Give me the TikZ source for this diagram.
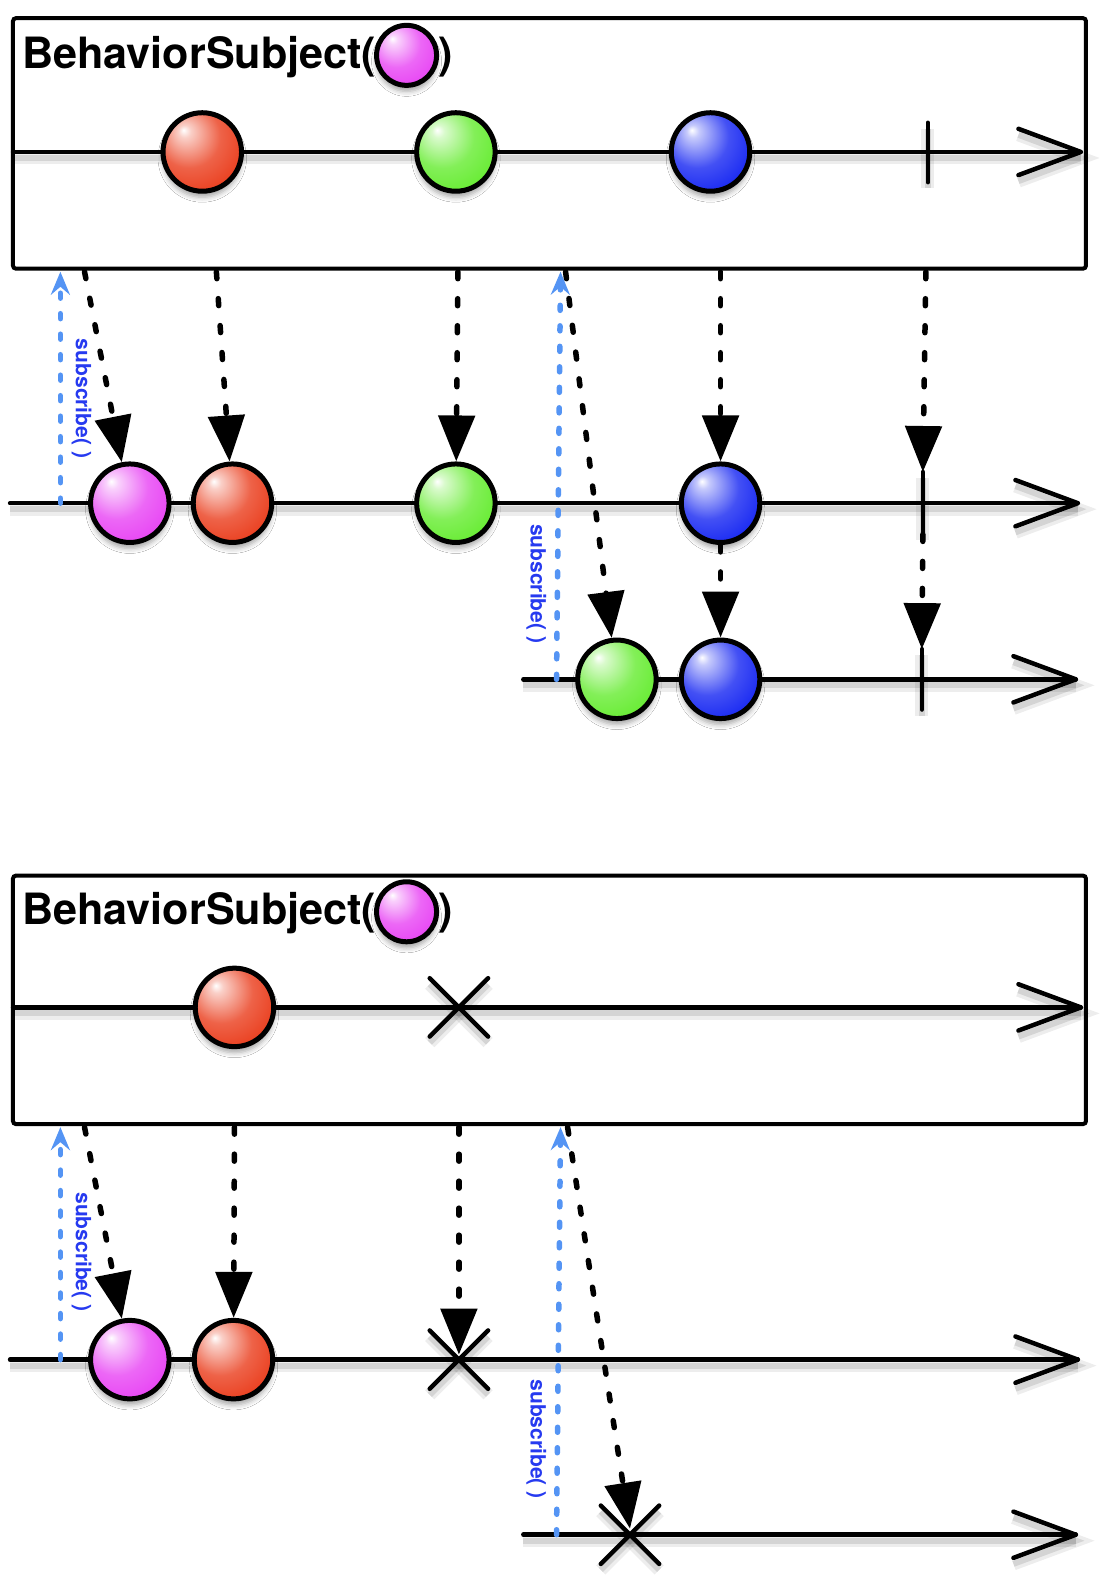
\documentclass[tikz,border=0pt]{standalone}
\usepackage{fontspec}
\setmainfont{TeX Gyre Heros}
\usetikzlibrary{arrows.meta,shadows.blur}
\definecolor{bred}{RGB}{234,64,32}
\definecolor{bgreen}{RGB}{104,236,52}
\definecolor{bblue}{RGB}{26,42,242}
\definecolor{bmag}{RGB}{232,70,244}
\definecolor{subblue}{RGB}{84,148,244}
\definecolor{labblue}{RGB}{38,58,240}
\newcommand\declball[2]{\pgfdeclareradialshading{#1}{\pgfpoint{-12bp}{14bp}}{%
 color(0bp)=(white); color(4bp)=(#2!25!white); color(20bp)=(#2!82!white);
 color(34bp)=(#2); color(52bp)=(#2!72!black); color(68bp)=(#2!42!black)}}
\declball{redshade}{bred}
\declball{greenshade}{bgreen}
\declball{blueshade}{bblue}
\declball{magshade}{bmag}
\begin{document}
\begin{tikzpicture}[x=1.0064bp,y=-1.0064bp,
  ball/.style={circle, draw=black, line width=5bp, minimum size=78.5bp, inner sep=0bp, outer sep=2.5bp,
    blur shadow={shadow xshift=0bp, shadow yshift=-6bp, shadow blur radius=5bp, shadow opacity=35}},
  rball/.style={ball, shading=redshade},
  gball/.style={ball, shading=greenshade},
  bball/.style={ball, shading=blueshade},
  mball/.style={ball, shading=magshade},
  tl/.style={line width=4.5bp, line cap=round, line join=round, draw=black,
    preaction={draw=black, opacity=0.07, line width=13bp, transform canvas={yshift=-6bp}},
    preaction={draw=black, opacity=0.10, line width=6bp, transform canvas={yshift=-6bp}}},
  sbox/.style={draw=black, line width=4bp, rounded corners=3bp, inner sep=0bp, fill=none},
  title/.style={font=\fontsize{43.3}{43.3}\selectfont\bfseries, inner sep=0bp},
  sublabel/.style={text=labblue, font=\fontsize{21.1}{21.1}\selectfont\bfseries, inner sep=0bp},
  emit/.style={draw=black, line width=5.5bp, line cap=round, dash pattern=on 7bp off 20bp,
    -{Triangle[width=36bp,length=46bp]}},
  subarr/.style={draw=subblue, line width=5.5bp, line cap=round, dash pattern=on 5bp off 15.5bp,
    -{Stealth[width=19bp,length=23bp,inset=8bp]}}
]
\fill[white] (0,0) rectangle (1097,1568);

% ================= TOP DIAGRAM =================
\node[sbox, minimum width=1073bp, minimum height=250.5bp] (box1) at (546,142.5) {};
\node[title, anchor=base west] (ttl1) at (22,68) {BehaviorSubject(};
\node[mball, minimum size=60bp] (tm1) at (404,55) {};
\node[title, anchor=base west] (tp1) at (436,68) {)};

% source timeline
\coordinate (s1) at (13,151);
\coordinate (e1) at (1074,151);
\draw[tl] (s1) -- (e1);
\draw[tl] (e1) ++(-62,-23) -- (e1) -- ++(-62,23);
\coordinate (k1) at (922,151);
\draw[tl] (k1) ++(0,-29) -- ++(0,59);
\node[rball] (r1) at (201,151) {};
\node[gball] (g1) at (453,151) {};
\node[bball] (b1) at (706,151) {};

% first subscriber timeline
\coordinate (s2) at (10,500);
\coordinate (e2) at (1071,500);
\draw[tl] (s2) -- (e2);
\draw[tl] (e2) ++(-62,-23) -- (e2) -- ++(-62,23);
\coordinate (k2t) at (917,469);
\coordinate (k2b) at (917,531);
\draw[tl] (k2t) -- (k2b);
\node[mball] (m2) at (129,500) {};
\node[rball] (r2) at (231,500) {};
\node[gball] (g2) at (453,500) {};
\node[bball] (b2) at (716,500) {};

% second subscriber timeline
\coordinate (s3) at (520,675);
\coordinate (e3) at (1069,675);
\draw[tl] (s3) -- (e3);
\draw[tl] (e3) ++(-62,-23) -- (e3) -- ++(-62,23);
\coordinate (k3t) at (916,645);
\coordinate (k3b) at (916,705);
\draw[tl] (k3t) -- (k3b);
\node[gball] (g3) at (613,675) {};
\node[bball] (b3) at (716,675) {};

% emissions
\coordinate (a1) at (84,270);
\coordinate (a2) at (215,270);
\coordinate (a3) at (455,270);
\coordinate (a4) at (562,270);
\coordinate (a5) at (716,270);
\coordinate (a6) at (920,270);
\draw[emit] (a1) -- (m2);
\draw[emit] (a2) -- (r2);
\draw[emit] (a3) -- (g2);
\draw[emit] (a4) -- (g3);
\draw[emit] (a5) -- (b2);
\draw[emit] (b2) -- (b3);
\draw[emit] (a6) -- (k2t);
\draw[emit] (k2b) -- (k3t);

% subscriptions
\coordinate (u1s) at (60,500);
\coordinate (u1e) at (60,270);
\draw[subarr] (u1s) -- (u1e);
\node[sublabel, rotate=-90] (l1) at (81,396) {subscribe( )};
\coordinate (u2s) at (553,675);
\coordinate (u2e) at (557,270);
\draw[subarr] (u2s) -- (u2e);
\node[sublabel, rotate=-90] (l2) at (533,580) {subscribe( )};

% ================= BOTTOM DIAGRAM =================
\node[sbox, minimum width=1073bp, minimum height=248.5bp] (box2) at (546,993.5) {};
\node[title, anchor=base west] (ttl2) at (22,919) {BehaviorSubject(};
\node[mball, minimum size=60bp] (tm2) at (404,906) {};
\node[title, anchor=base west] (tp2) at (436,919) {)};

% source timeline
\coordinate (s4) at (13,1001);
\coordinate (e4) at (1074,1001);
\draw[tl] (s4) -- (e4);
\draw[tl] (e4) ++(-62,-23) -- (e4) -- ++(-62,23);
\node[rball] (r4) at (233,1001) {};
\coordinate (x4) at (456,1001);
\draw[tl] (x4) ++(-29,-29) -- ++(58,58);
\draw[tl] (x4) ++(29,-29) -- ++(-58,58);

% first subscriber
\coordinate (s5) at (10,1351);
\coordinate (e5) at (1071,1351);
\draw[tl] (s5) -- (e5);
\draw[tl] (e5) ++(-62,-23) -- (e5) -- ++(-62,23);
\node[mball] (m5) at (129,1351) {};
\node[rball] (r5) at (232,1351) {};
\coordinate (x5) at (456,1351);
\draw[tl] (x5) ++(-29,-29) -- ++(58,58);
\draw[tl] (x5) ++(29,-29) -- ++(-58,58);

% second subscriber
\coordinate (s6) at (520,1525);
\coordinate (e6) at (1069,1525);
\draw[tl] (s6) -- (e6);
\draw[tl] (e6) ++(-62,-23) -- (e6) -- ++(-62,23);
\coordinate (x6) at (626,1525);
\draw[tl] (x6) ++(-29,-29) -- ++(58,58);
\draw[tl] (x6) ++(29,-29) -- ++(-58,58);

% emissions
\coordinate (c1) at (84,1120);
\coordinate (c2) at (233,1120);
\coordinate (c3) at (456,1120);
\coordinate (c4) at (564,1120);
\coordinate (x5t) at (456,1346);
\coordinate (x6t) at (626,1519);
\draw[emit] (c1) -- (m5);
\draw[emit] (c2) -- (r5);
\draw[emit] (c3) -- (x5t);
\draw[emit] (c4) -- (x6t);

% subscriptions
\coordinate (u3s) at (60,1351);
\coordinate (u3e) at (60,1120);
\draw[subarr] (u3s) -- (u3e);
\node[sublabel, rotate=-90] (l3) at (81,1244) {subscribe( )};
\coordinate (u4s) at (553,1525);
\coordinate (u4e) at (557,1120);
\draw[subarr] (u4s) -- (u4e);
\node[sublabel, rotate=-90] (l4) at (533,1430) {subscribe( )};

\pgfresetboundingbox
\useasboundingbox (0,0) rectangle (1097,1568);
\end{tikzpicture}
\end{document}
